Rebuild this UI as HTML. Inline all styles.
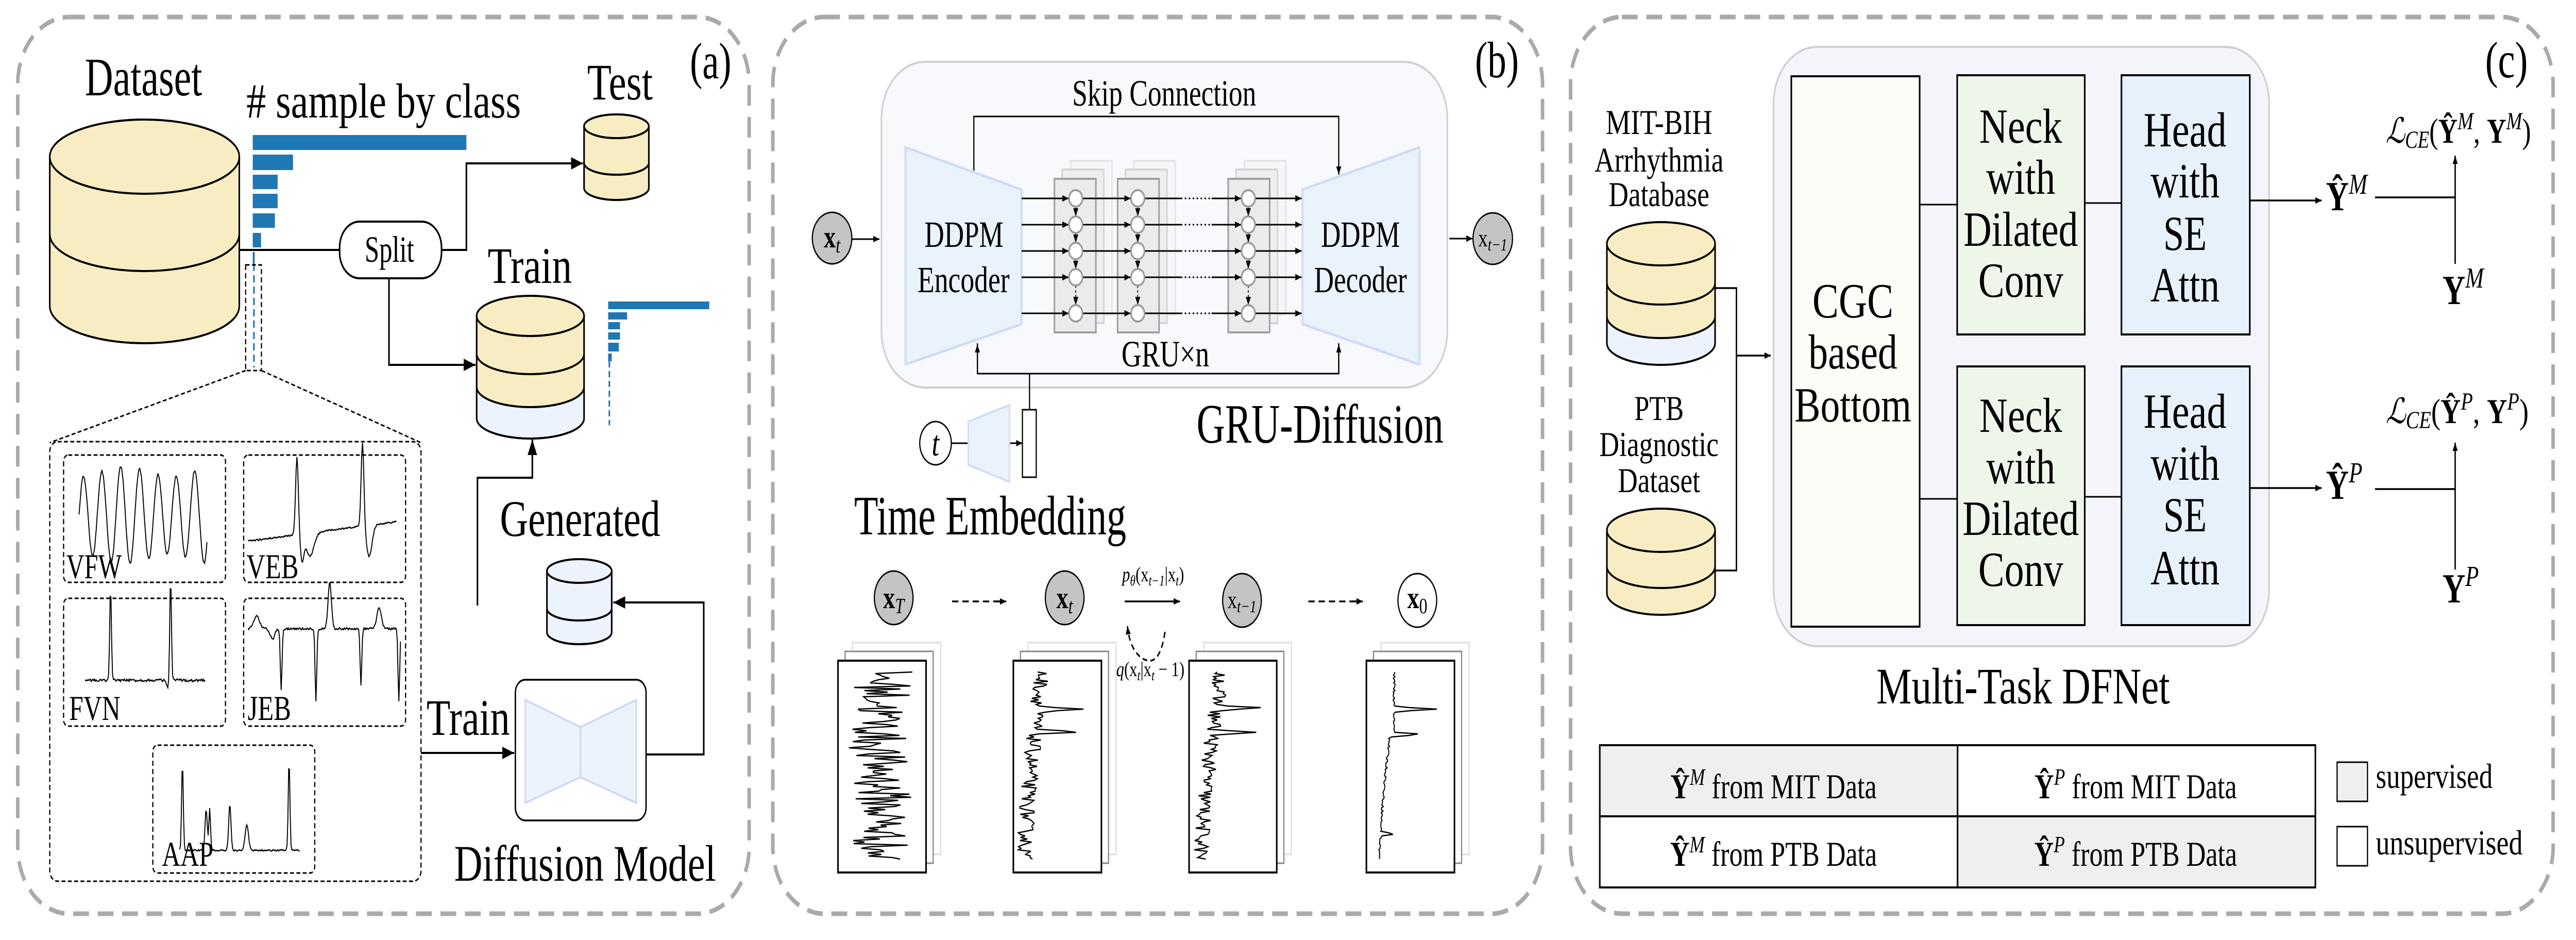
<!DOCTYPE html>
<html><head><meta charset="utf-8"><style>
html,body{margin:0;padding:0;background:#fff;width:100%;height:100%;overflow:hidden}
svg{display:block;width:100vw;height:100vh;overflow:hidden}
text{font-family:"Liberation Serif","Noto Serif CJK SC","DejaVu Serif",serif;fill:#000}
</style></head><body>
<svg id="s" xmlns="http://www.w3.org/2000/svg" viewBox="0 0 6523 1824" preserveAspectRatio="none" font-family="'Liberation Serif', 'Noto Serif CJK SC', serif">
<defs>
<marker id="ah" markerUnits="userSpaceOnUse" markerWidth="30" markerHeight="30" viewBox="0 0 10 10" refX="10" refY="5" orient="auto"><path d="M0,1 L10,5 L0,9 Z" fill="#000"/></marker>
<marker id="as" markerUnits="userSpaceOnUse" markerWidth="16" markerHeight="16" viewBox="0 0 10 10" refX="10" refY="5" orient="auto"><path d="M0,1 L10,5 L0,9 Z" fill="#000"/></marker>
</defs>
<g fill="none" stroke="#aaa" stroke-width="9" stroke-dasharray="40 22">
<rect x="45" y="33" width="1852" height="1740" rx="130"/>
<rect x="1957" y="33" width="1949" height="1740" rx="130"/>
<rect x="3977" y="33" width="2488" height="1740" rx="130"/>
</g>

<!-- ===== Panel A ===== -->
<text x="1747" y="152" font-size="100" textLength="105" lengthAdjust="spacingAndGlyphs">(a)</text>
<text x="215" y="185" font-size="105" textLength="297" lengthAdjust="spacingAndGlyphs">Dataset</text>
<text x="624" y="228" font-size="95" textLength="695" lengthAdjust="spacingAndGlyphs"># sample by class</text>
<g fill="#1f77b4">
<rect x="640" y="262" width="541" height="29"/>
<rect x="640" y="300" width="102" height="30"/>
<rect x="640" y="339" width="63" height="28"/>
<rect x="640" y="376" width="63" height="28"/>
<rect x="640" y="414" width="56" height="28"/>
<rect x="640" y="452" width="21" height="28"/>
<rect x="640" y="489" width="5" height="23"/>
<rect x="1540" y="585" width="256" height="15"/>
<rect x="1540" y="606" width="48" height="14"/>
<rect x="1540" y="625" width="30" height="14"/>
<rect x="1540" y="645" width="30" height="14"/>
<rect x="1540" y="665" width="27" height="17"/>
<rect x="1540" y="686" width="9" height="15"/>
</g>
<line x1="643" y1="512" x2="643" y2="713" stroke="#1f77b4" stroke-width="4" stroke-dasharray="14 8"/>
<line x1="1543" y1="701" x2="1543" y2="825" stroke="#1f77b4" stroke-width="4" stroke-dasharray="12 7"/>
<g fill="none" stroke="#000" stroke-width="3" stroke-dasharray="10 6">
<rect x="622" y="514" width="40" height="205"/>
<line x1="622" y1="719" x2="126" y2="859"/>
<line x1="662" y1="719" x2="1066" y2="859"/>
<rect x="126" y="857" width="940" height="853" rx="20"/>
<rect x="161" y="883" width="410" height="247" rx="12"/>
<rect x="617" y="883" width="410" height="247" rx="12"/>
<rect x="161" y="1161" width="410" height="248" rx="12"/>
<rect x="617" y="1161" width="410" height="248" rx="12"/>
<rect x="387" y="1446" width="410" height="248" rx="12"/>
</g>
<g id="ecg" fill="none" stroke="#000" stroke-width="2.5"></g>
<g font-size="68">
<text x="168" y="1122" textLength="140" lengthAdjust="spacingAndGlyphs">VFW</text>
<text x="624" y="1122" textLength="132" lengthAdjust="spacingAndGlyphs">VEB</text>
<text x="175" y="1397" textLength="130" lengthAdjust="spacingAndGlyphs">FVN</text>
<text x="627" y="1397" textLength="110" lengthAdjust="spacingAndGlyphs">JEB</text>
<text x="410" y="1680" textLength="130" lengthAdjust="spacingAndGlyphs">AAP</text>
</g>
<g id="cyls"></g>
<g fill="none" stroke="#000" stroke-width="4">
<polyline points="606,485 860,485"/>
<rect x="860" y="430" width="258" height="110" rx="50" fill="#fff"/>
<polyline points="1118,485 1181,485 1181,317 1476,317" marker-end="url(#ah)"/>
<polyline points="985,540 985,708 1204,708" marker-end="url(#ah)"/>
<polyline points="1209,1175 1209,927 1348,927 1348,853" marker-end="url(#ah)"/>
<polyline points="1636,1464 1782,1464 1782,1169 1553,1169" marker-end="url(#ah)"/>
<polyline points="1066,1461 1302,1461" marker-end="url(#ah)"/>
<rect x="1305" y="1319" width="331" height="273" rx="25" fill="#fff" stroke-width="3.5"/>
</g>
<g fill="#edf3fc" stroke="#cdd9f5" stroke-width="4">
<polygon points="1330,1358 1470,1411 1470,1508 1330,1558"/>
<polygon points="1611,1358 1470,1411 1470,1508 1611,1558"/>
</g>
<text x="986" y="508" font-size="72" text-anchor="middle" textLength="125" lengthAdjust="spacingAndGlyphs">Split</text>
<text x="1487" y="193" font-size="100" textLength="166" lengthAdjust="spacingAndGlyphs">Test</text>
<text x="1235" y="549" font-size="100" textLength="213" lengthAdjust="spacingAndGlyphs">Train</text>
<text x="1266" y="1040" font-size="100" textLength="406" lengthAdjust="spacingAndGlyphs">Generated</text>
<text x="1080" y="1426" font-size="100" textLength="211" lengthAdjust="spacingAndGlyphs">Train</text>
<text x="1150" y="1709" font-size="100" textLength="663" lengthAdjust="spacingAndGlyphs">Diffusion Model</text>

<!-- ===== Panel B ===== -->
<text x="3735" y="150" font-size="100" textLength="111" lengthAdjust="spacingAndGlyphs">(b)</text>
<rect x="2232" y="120" width="1433" height="632" rx="110" fill="#f7f9fd" stroke="#cfcfcf" stroke-width="4"/>
<text x="2715" y="205" font-size="72" textLength="466" lengthAdjust="spacingAndGlyphs">Skip Connection</text>
<polyline points="2466,331 2466,226 3390,226 3390,339" fill="none" stroke="#000" stroke-width="3" marker-end="url(#as)"/>
<g fill="#eaf2fc" stroke="#d0dcf6" stroke-width="5">
<polygon points="2293,286 2587,368 2587,629 2293,707"/>
<polygon points="3298,368 3594,286 3594,707 3298,629"/>
</g>
<g font-size="72" text-anchor="middle">
<text x="2441" y="479" textLength="200" lengthAdjust="spacingAndGlyphs">DDPM</text>
<text x="2440" y="567" textLength="233" lengthAdjust="spacingAndGlyphs">Encoder</text>
<text x="3445" y="479" textLength="200" lengthAdjust="spacingAndGlyphs">DDPM</text>
<text x="3445" y="567" textLength="235" lengthAdjust="spacingAndGlyphs">Decoder</text>
</g>
<g id="gru"></g>
<text x="2951" y="711" font-size="72" text-anchor="middle" textLength="222" lengthAdjust="spacingAndGlyphs">GRU×n</text>
<g fill="none" stroke="#000" stroke-width="3">
<polyline points="2475,666 2475,725 3390,725 3390,666" />
<line x1="2475" y1="725" x2="2475" y2="668" marker-end="url(#as)"/>
<line x1="3390" y1="725" x2="3390" y2="668" marker-end="url(#as)"/>
<line x1="2607" y1="725" x2="2607" y2="795"/>
<rect x="2589" y="795" width="35" height="131" fill="#fff"/>
<ellipse cx="2369" cy="860" rx="40" ry="42" fill="#fff"/>
<line x1="2409" y1="860" x2="2452" y2="860"/>
<line x1="2556" y1="860" x2="2589" y2="860" marker-end="url(#as)"/>
<line x1="2157" y1="464" x2="2227" y2="464" marker-end="url(#as)"/>
<line x1="3670" y1="463" x2="3729" y2="463" marker-end="url(#as)"/>
</g>
<polygon points="2452,818 2556,786 2556,935 2452,902" fill="#eaf2fc" stroke="#d0dcf6" stroke-width="4"/>
<text x="2369" y="884" font-size="70" text-anchor="middle" font-style="italic">t</text>
<ellipse cx="2107" cy="462" rx="50" ry="50" fill="#c4c4c4" stroke="#000" stroke-width="3"/>
<text x="2107" y="480" font-size="60" text-anchor="middle"><tspan font-weight="bold">x</tspan><tspan font-style="italic" font-size="42" dy="10">t</tspan></text>
<ellipse cx="3780" cy="463" rx="50" ry="50" fill="#c4c4c4" stroke="#000" stroke-width="3"/>
<text x="3780" y="478" font-size="48" text-anchor="middle"><tspan>x</tspan><tspan font-style="italic" font-size="34" dy="8">t−1</tspan></text>
<text x="3030" y="859" font-size="108" textLength="625" lengthAdjust="spacingAndGlyphs">GRU-Diffusion</text>
<text x="2163" y="1037" font-size="108" textLength="689" lengthAdjust="spacingAndGlyphs">Time Embedding</text>

<g stroke="#000" stroke-width="3">
<ellipse cx="2263" cy="1160" rx="49" ry="52" fill="#c4c4c4"/>
<ellipse cx="2696" cy="1160" rx="49" ry="52" fill="#c4c4c4"/>
<ellipse cx="3145" cy="1165" rx="49" ry="52" fill="#c4c4c4"/>
<ellipse cx="3589" cy="1165" rx="49" ry="52" fill="#fff"/>
</g>
<g font-size="60" text-anchor="middle">
<text x="2263" y="1180"><tspan font-weight="bold">x</tspan><tspan font-style="italic" font-size="42" dy="10">T</tspan></text>
<text x="2696" y="1180"><tspan font-weight="bold">x</tspan><tspan font-style="italic" font-size="42" dy="10">t</tspan></text>
<text x="3145" y="1180" font-size="48"><tspan>x</tspan><tspan font-style="italic" font-size="34" dy="8">t−1</tspan></text>
<text x="3589" y="1180"><tspan font-weight="bold">x</tspan><tspan font-size="42" dy="10">0</tspan></text>
</g>
<g fill="none" stroke="#000" stroke-width="3.5">
<line x1="2411" y1="1167" x2="2532" y2="1167" stroke-dasharray="16 10"/>
<line x1="2520" y1="1167" x2="2548" y2="1167" marker-end="url(#as)"/>
<line x1="3313" y1="1167" x2="3436" y2="1167" stroke-dasharray="16 10"/>
<line x1="3425" y1="1167" x2="3451" y2="1167" marker-end="url(#as)"/>
<line x1="2848" y1="1167" x2="2988" y2="1167" marker-end="url(#as)"/>
<path d="M2950,1226 Q2935,1305 2885,1273 Q2860,1255 2855,1215" stroke-dasharray="12 8" marker-end="url(#as)"/>
</g>
<text x="2920" y="1128" font-size="40" text-anchor="middle" font-style="italic">p<tspan font-size="28" dy="8">θ</tspan><tspan dy="-8" font-style="normal">(x</tspan><tspan font-size="28" dy="8">t−1</tspan><tspan dy="-8" font-style="normal">|x</tspan><tspan font-size="28" dy="8">t</tspan><tspan dy="-8" font-style="normal">)</tspan></text>
<text x="2913" y="1312" font-size="40" text-anchor="middle" font-style="italic">q<tspan font-style="normal">(x</tspan><tspan font-size="28" dy="8">t</tspan><tspan dy="-8" font-style="normal">|x</tspan><tspan font-size="28" dy="8">t</tspan><tspan dy="-8" font-style="normal"> − 1)</tspan></text>
<g id="cards"></g>

<!-- ===== Panel C ===== -->
<text x="6293" y="150" font-size="100" textLength="108" lengthAdjust="spacingAndGlyphs">(c)</text>
<rect x="4491" y="91" width="1255" height="1163" rx="110" fill="#f3f5fb" stroke="#cfcfcf" stroke-width="4"/>
<g stroke="#000" stroke-width="4">
<rect x="4536" y="148" width="325" height="1068" fill="#fdfdf7"/>
<rect x="4956" y="146" width="323" height="503" fill="#eef6ea"/>
<rect x="5372" y="146" width="325" height="503" fill="#e7f1fb"/>
<rect x="4956" y="711" width="323" height="502" fill="#eef6ea"/>
<rect x="5372" y="711" width="325" height="502" fill="#e7f1fb"/>
<line x1="4861" y1="397" x2="4956" y2="397" stroke-width="3"/>
<line x1="5279" y1="394" x2="5372" y2="394" stroke-width="3"/>
<line x1="4861" y1="968" x2="4956" y2="968" stroke-width="3"/>
<line x1="5279" y1="964" x2="5372" y2="964" stroke-width="3"/>
</g>
<g font-size="95" text-anchor="middle">
<text x="4692" y="616" textLength="205" lengthAdjust="spacingAndGlyphs">CGC</text>
<text x="4692" y="715" textLength="225" lengthAdjust="spacingAndGlyphs">based</text>
<text x="4692" y="818" textLength="296" lengthAdjust="spacingAndGlyphs">Bottom</text>
<text x="5117" y="277" textLength="210" lengthAdjust="spacingAndGlyphs">Neck</text>
<text x="5117" y="376" textLength="175" lengthAdjust="spacingAndGlyphs">with</text>
<text x="5117" y="477" textLength="290" lengthAdjust="spacingAndGlyphs">Dilated</text>
<text x="5117" y="576" textLength="215" lengthAdjust="spacingAndGlyphs">Conv</text>
<text x="5533" y="284" textLength="210" lengthAdjust="spacingAndGlyphs">Head</text>
<text x="5533" y="383" textLength="175" lengthAdjust="spacingAndGlyphs">with</text>
<text x="5533" y="485" textLength="110" lengthAdjust="spacingAndGlyphs">SE</text>
<text x="5533" y="585" textLength="175" lengthAdjust="spacingAndGlyphs">Attn</text>
<text x="5117" y="838" textLength="210" lengthAdjust="spacingAndGlyphs">Neck</text>
<text x="5117" y="938" textLength="175" lengthAdjust="spacingAndGlyphs">with</text>
<text x="5117" y="1038" textLength="295" lengthAdjust="spacingAndGlyphs">Dilated</text>
<text x="5117" y="1137" textLength="215" lengthAdjust="spacingAndGlyphs">Conv</text>
<text x="5533" y="830" textLength="210" lengthAdjust="spacingAndGlyphs">Head</text>
<text x="5533" y="931" textLength="175" lengthAdjust="spacingAndGlyphs">with</text>
<text x="5533" y="1031" textLength="110" lengthAdjust="spacingAndGlyphs">SE</text>
<text x="5533" y="1134" textLength="175" lengthAdjust="spacingAndGlyphs">Attn</text>
</g>
<g font-size="68" text-anchor="middle">
<text x="4201" y="260" textLength="270" lengthAdjust="spacingAndGlyphs">MIT-BIH</text>
<text x="4201" y="333" textLength="327" lengthAdjust="spacingAndGlyphs">Arrhythmia</text>
<text x="4201" y="400" textLength="255" lengthAdjust="spacingAndGlyphs">Database</text>
<text x="4201" y="815" textLength="125" lengthAdjust="spacingAndGlyphs">PTB</text>
<text x="4201" y="885" textLength="302" lengthAdjust="spacingAndGlyphs">Diagnostic</text>
<text x="4201" y="955" textLength="208" lengthAdjust="spacingAndGlyphs">Dataset</text>
</g>
<g fill="none" stroke="#000" stroke-width="3.5">
<polyline points="4343,559 4397,559 4397,1107 4343,1107"/>
<line x1="4397" y1="690" x2="4484" y2="690" marker-end="url(#as)"/>
<line x1="5697" y1="389" x2="5879" y2="389" marker-end="url(#as)"/>
<line x1="5697" y1="947" x2="5879" y2="947" marker-end="url(#as)"/>
<polyline points="6014,383 6217,383"/>
<line x1="6217" y1="512" x2="6217" y2="302" marker-end="url(#as)"/>
<polyline points="6014,949 6217,949"/>
<line x1="6217" y1="1105" x2="6217" y2="859" marker-end="url(#as)"/>
</g>
<g font-size="80">
<text x="5890" y="408"><tspan font-weight="bold">Ŷ</tspan><tspan font-style="italic" font-size="56" dy="-32">M</tspan></text>
<text x="5890" y="968"><tspan font-weight="bold">Ŷ</tspan><tspan font-style="italic" font-size="56" dy="-32">P</tspan></text>
<text x="6185" y="590"><tspan font-weight="bold">Y</tspan><tspan font-style="italic" font-size="56" dy="-32">M</tspan></text>
<text x="6185" y="1169"><tspan font-weight="bold">Y</tspan><tspan font-style="italic" font-size="56" dy="-32">P</tspan></text>
</g>
<g font-size="68">
<text x="6041" y="277" textLength="368" lengthAdjust="spacingAndGlyphs"><tspan font-style="italic">ℒ</tspan><tspan font-style="italic" font-size="48" dy="10">CE</tspan><tspan dy="-10">(</tspan><tspan font-weight="bold">Ŷ</tspan><tspan font-style="italic" font-size="48" dy="-26">M</tspan><tspan dy="26">, </tspan><tspan font-weight="bold">Y</tspan><tspan font-style="italic" font-size="48" dy="-26">M</tspan><tspan dy="26">)</tspan></text>
<text x="6041" y="821" textLength="362" lengthAdjust="spacingAndGlyphs"><tspan font-style="italic">ℒ</tspan><tspan font-style="italic" font-size="48" dy="10">CE</tspan><tspan dy="-10">(</tspan><tspan font-weight="bold">Ŷ</tspan><tspan font-style="italic" font-size="48" dy="-26">P</tspan><tspan dy="26">, </tspan><tspan font-weight="bold">Y</tspan><tspan font-style="italic" font-size="48" dy="-26">P</tspan><tspan dy="26">)</tspan></text>
</g>
<text x="5123" y="1365" font-size="100" text-anchor="middle" textLength="743" lengthAdjust="spacingAndGlyphs">Multi-Task DFNet</text>
<g stroke="#000" stroke-width="4">
<rect x="4051" y="1446" width="906" height="138" fill="#efefef"/>
<rect x="4957" y="1446" width="906" height="138" fill="#fff"/>
<rect x="4051" y="1584" width="906" height="138" fill="#fff"/>
<rect x="4957" y="1584" width="906" height="138" fill="#efefef"/>
<rect x="5918" y="1479" width="77" height="76" fill="#efefef" stroke-width="3"/>
<rect x="5918" y="1604" width="77" height="76" fill="#fff" stroke-width="3"/>
</g>
<g font-size="68" text-anchor="middle">
<text x="4491" y="1549"><tspan font-weight="bold">Ŷ</tspan><tspan font-style="italic" font-size="46" dy="-26">M</tspan><tspan dy="26">  from MIT Data</tspan></text>
<text x="5408" y="1549"><tspan font-weight="bold">Ŷ</tspan><tspan font-style="italic" font-size="46" dy="-26">P</tspan><tspan dy="26">  from MIT Data</tspan></text>
<text x="4491" y="1680"><tspan font-weight="bold">Ŷ</tspan><tspan font-style="italic" font-size="46" dy="-26">M</tspan><tspan dy="26">  from PTB Data</tspan></text>
<text x="5408" y="1680"><tspan font-weight="bold">Ŷ</tspan><tspan font-style="italic" font-size="46" dy="-26">P</tspan><tspan dy="26">  from PTB Data</tspan></text>
</g>
<text x="6016" y="1529" font-size="68" textLength="296" lengthAdjust="spacingAndGlyphs">supervised</text>
<text x="6016" y="1658" font-size="68" textLength="372" lengthAdjust="spacingAndGlyphs">unsupervised</text>
</svg>
<script>
(function(){
var NS='http://www.w3.org/2000/svg';
function el(t,a,p){var e=document.createElementNS(NS,t);for(var k in a)e.setAttribute(k,a[k]);p.appendChild(e);return e;}
var seed=12345;function r(){seed=(seed*16807)%2147483647;return (seed-1)/2147483646;}
function g(x,c,w){return Math.exp(-Math.pow((x-c)/w,2));}
var cream='#f8ecc2',blue='#edf3fc';
var cy=document.getElementById('cyls');
function cyl(cx,rx,ry,top,bot,arcs,blueFrom,allBlue){
 var L=cx-rx,R=cx+rx;
 var body='M'+L+','+top+' V'+bot+' A'+rx+' '+ry+' 0 0 0 '+R+','+bot+' V'+top+' Z';
 el('path',{d:body,fill:(blueFrom||allBlue)?blue:cream,stroke:'none'},cy);
 if(blueFrom) el('path',{d:'M'+L+','+top+' V'+blueFrom+' A'+rx+' '+ry+' 0 0 0 '+R+','+blueFrom+' V'+top+' Z',fill:cream},cy);
 el('path',{d:body,fill:'none',stroke:'#000','stroke-width':4},cy);
 arcs.forEach(function(a){el('path',{d:'M'+L+','+a+' A'+rx+' '+ry+' 0 0 0 '+R+','+a,fill:'none',stroke:'#000','stroke-width':4},cy);});
 el('ellipse',{cx:cx,cy:top,rx:rx,ry:ry,fill:allBlue?blue:cream,stroke:'#000','stroke-width':4},cy);
}
cyl(366,240,72,304,594,[454],0,false);
cyl(1561,82,23,245,365,[316],0,false);
cyl(1343,136,39,613,812,[687,751],751,false);
cyl(1467,82,23,1108,1227,[1181],0,true);
cyl(4206,137,42,473,666,[549,614],614,false);
cyl(4206,137,42,1029,1151,[1099],0,false);
var E=document.getElementById('ecg');
function hs(x0,x1,base,f,nz){var p=[];for(var x=x0;x<=x1;x+=2){p.push(x+','+(base+f(x)+(r()-.5)*nz).toFixed(1));}el('polyline',{points:p.join(' ')},E);}
hs(200,525,1000,function(x){var ph=(x-200)/47;return -85*Math.sin(ph*2*Math.PI)+10*Math.sin(ph*5);},4);
hs(628,1005,1050,function(x){return -150*g(x,752,5)+50*g(x,765,6)-10*(x-628)/100+45*g(x,785,14)-165*g(x,918,5)+60*g(x,935,10);},3);
hs(215,520,1330,function(x){return -180*g(x,280,3)-200*g(x,432,3)+15*g(x,425,5)-10;},5);
hs(628,1015,1220,function(x){return 120*g(x,712,3)+20*g(x,690,8)+140*g(x,800,3)-90*g(x,835,6)+110*g(x,914,3)-40*g(x,960,8)+140*g(x,1010,3)-25*g(x,650,10);},4);
hs(455,760,1650,function(x){return -170*g(x,462,3)-80*g(x,522,4)-80*g(x,531,3)-90*g(x,582,4)-50*g(x,625,6)-175*g(x,732,3);},3);
var G=document.getElementById('gru');
var rows=[385,436,487,538,608];
var cols=[[2670,2724],[2830,2881],[3110,3161]];
cols.forEach(function(c){
 el('rect',{x:c[0]+41,y:312,width:105,height:298,fill:'#f6f6f6',stroke:'#e6e6e6','stroke-width':4},G);
 el('rect',{x:c[0]+20,y:329,width:105,height:298,fill:'#eeeeee',stroke:'#d6d6d6','stroke-width':4},G);
 el('rect',{x:c[0],y:347,width:105,height:298,fill:'#ebebeb',stroke:'#a0a0a0','stroke-width':4},G);
});
rows.forEach(function(y){
 el('line',{x1:2587,y1:y,x2:2706,y2:y,stroke:'#000','stroke-width':3,'marker-end':'url(#as)'},G);
 el('line',{x1:2741,y1:y,x2:2863,y2:y,stroke:'#000','stroke-width':3,'marker-end':'url(#as)'},G);
 el('line',{x1:2898,y1:y,x2:2990,y2:y,stroke:'#000','stroke-width':3},G);
 el('line',{x1:2990,y1:y,x2:3068,y2:y,stroke:'#000','stroke-width':3,'stroke-dasharray':'4 6'},G);
 el('line',{x1:3068,y1:y,x2:3143,y2:y,stroke:'#000','stroke-width':3,'marker-end':'url(#as)'},G);
 el('line',{x1:3178,y1:y,x2:3296,y2:y,stroke:'#000','stroke-width':3,'marker-end':'url(#as)'},G);
});
cols.forEach(function(c){
 for(var i=0;i<4;i++){var y1=rows[i]+16,y2=rows[i+1]-16;
  el('line',{x1:c[1],y1:y1,x2:c[1],y2:y2,stroke:'#000','stroke-width':2,'stroke-dasharray':i==3?'5 4':'none','marker-end':'url(#as)'},G);}
 rows.forEach(function(y){el('ellipse',{cx:c[1],cy:y,rx:17,ry:16,fill:'#fff',stroke:'#9a9a9a','stroke-width':4},G);});
});
var C=document.getElementById('cards');
function card(x0,x1,y0,y1,sig){
 el('rect',{x:x0+37,y:y0-35,width:x1-x0,height:y1-y0,fill:'#fff',stroke:'#dddddd','stroke-width':3},C);
 el('rect',{x:x0+18,y:y0-18,width:x1-x0,height:y1-y0,fill:'#fff',stroke:'#888','stroke-width':3},C);
 el('rect',{x:x0,y:y0,width:x1-x0,height:y1-y0,fill:'#fff',stroke:'#000','stroke-width':4},C);
 var p=[];for(var y=y0+22;y<=y1-25;y+=3){p.push(sig(y).toFixed(1)+','+y);}
 el('polyline',{points:p.join(' '),fill:'none',stroke:'#000','stroke-width':2.5},C);
}
card(2122,2345,1282,1693,function(y){return 2230+Math.sin(y/40)*8+(r()-.5)*150;});
card(2566,2789,1282,1693,function(y){var x=2640-45*Math.sin((y-1300)/260)+(r()-.5)*40;x+=120*g(y,1376,3)+95*g(y,1420,3);return x;});
card(3011,3233,1282,1693,function(y){var x=3090-50*Math.sin((y-1320)/260)+(r()-.5)*40;x+=120*g(y,1373,3)+105*g(y,1421,3);return x;});
card(3460,3683,1282,1693,function(y){var x=3525-35*Math.sin((y-1390)/230)+(r()-.5)*5;if(y<1420)x=3530+(r()-.5)*5;x+=110*g(y,1376,3)+80*g(y,1425,3)+35*g(y,1618,3);return x;});
})();
</script>
</body></html>
